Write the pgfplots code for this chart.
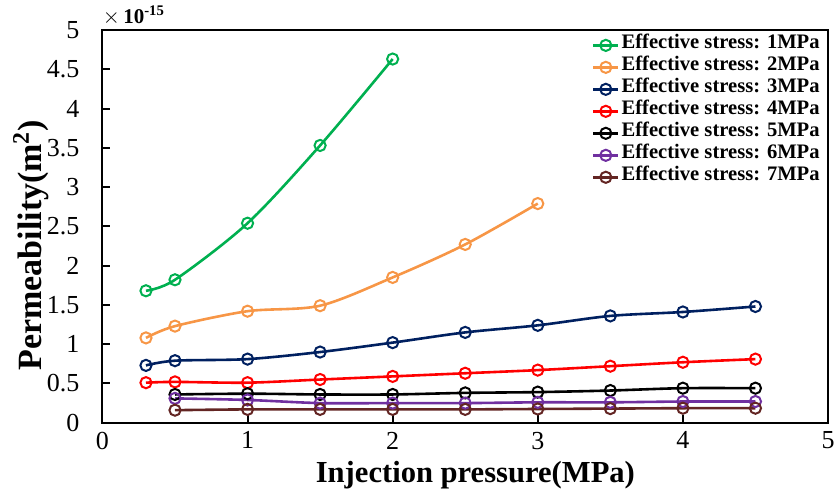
\documentclass[border=0pt]{standalone}
\usepackage{fontspec}
\setmainfont{Liberation Serif}
\usepackage{pgfplots}
\pgfplotsset{compat=1.18}
\definecolor{cGreen}{RGB}{0,176,80}
\definecolor{cOrange}{RGB}{247,150,70}
\definecolor{cNavy}{RGB}{0,32,96}
\definecolor{cRed}{RGB}{255,0,0}
\definecolor{cPurple}{RGB}{112,48,160}
\definecolor{cBrown}{RGB}{99,37,35}
\begin{document}
\begin{tikzpicture}
\begin{axis}[name=ax,
  scale only axis, width=363pt, height=196.5pt,
  xmin=0, xmax=5, ymin=0, ymax=5,
  xtick={0,1,2,3,4,5}, ytick={0,0.5,...,5},
  axis line style={line width=1pt},
  tick style={black, line width=1pt},
  tick align=inside, major tick length=4pt,
  xtick pos=bottom, ytick pos=left,
  /pgf/number format/assume math mode=true,
  ticklabel style={font=\fontsize{13}{13}\selectfont},
  yticklabel style={xshift=-8pt},
  xticklabel style={yshift=-1pt},
  xlabel={\textbf{Injection pressure(MPa)}},
  ylabel={\textbf{Permeability(m\textsuperscript{2})}},
  every axis x label/.style={at={(axis description cs:0.514,-0.1323)}, anchor=center, font=\fontsize{15.3}{16}\selectfont},
  every axis y label/.style={at={(axis description cs:-0.0985,0.452)}, anchor=center, rotate=90, font=\fontsize{17}{18}\selectfont},
  legend cell align=left,
  legend style={at={(rel axis cs:1,1)}, anchor=north east, xshift=-3pt, yshift=-2pt,
    draw=none, fill=none, inner sep=0pt, row sep=0pt,
    font=\fontsize{10.3}{11}\selectfont\bfseries,
    nodes={inner xsep=1pt, inner ysep=0pt, text height=7.3pt, text depth=3.7pt}},
  legend image code/.code={\draw[mark repeat=2,mark phase=2] plot coordinates {(0cm,0cm) (0.22cm,0cm) (0.44cm,0cm)};},
  every axis plot/.append style={line width=1.3pt, smooth, tension=0.5, mark=o, mark size=2.8pt, mark options={line width=1pt}},
]
\addplot[color=cGreen] coordinates {(0.3,1.68)(0.5,1.82)(1,2.54)(1.5,3.53)(2,4.63)};
\addlegendentry{Effective stress: 1MPa}
\addplot[color=cOrange] coordinates {(0.3,1.08)(0.5,1.23)(1,1.42)(1.5,1.49)(2,1.85)(2.5,2.27)(3,2.79)};
\addlegendentry{Effective stress: 2MPa}
\addplot[color=cNavy] coordinates {(0.3,0.73)(0.5,0.79)(1,0.81)(1.5,0.90)(2,1.02)(2.5,1.15)(3,1.24)(3.5,1.36)(4,1.41)(4.5,1.48)};
\addlegendentry{Effective stress: 3MPa}
\addplot[color=cRed] coordinates {(0.3,0.51)(0.5,0.52)(1,0.51)(1.5,0.55)(2,0.59)(2.5,0.63)(3,0.67)(3.5,0.72)(4,0.77)(4.5,0.81)};
\addlegendentry{Effective stress: 4MPa}
\addplot[color=black] coordinates {(0.5,0.36)(1,0.37)(1.5,0.36)(2,0.36)(2.5,0.38)(3,0.39)(3.5,0.41)(4,0.44)(4.5,0.44)};
\addlegendentry{Effective stress: 5MPa}
\addplot[color=cPurple] coordinates {(0.5,0.31)(1,0.29)(1.5,0.25)(2,0.25)(2.5,0.25)(3,0.26)(3.5,0.26)(4,0.27)(4.5,0.27)};
\addlegendentry{Effective stress: 6MPa}
\addplot[color=cBrown] coordinates {(0.5,0.16)(1,0.17)(1.5,0.17)(2,0.17)(2.5,0.17)(3,0.175)(3.5,0.18)(4,0.185)(4.5,0.185)};
\addlegendentry{Effective stress: 7MPa}
\end{axis}
\node[anchor=south west, inner sep=0pt, font=\fontsize{10.5}{10.5}\selectfont] at ([yshift=2pt]ax.north west) {$\times$\,\textbf{10\textsuperscript{-15}}};
\pgfresetboundingbox
\path ([shift={(-51.25pt,-36.5pt)}]ax.south west) rectangle ([shift={(4pt,15pt)}]ax.north east);
\end{tikzpicture}
\end{document}
